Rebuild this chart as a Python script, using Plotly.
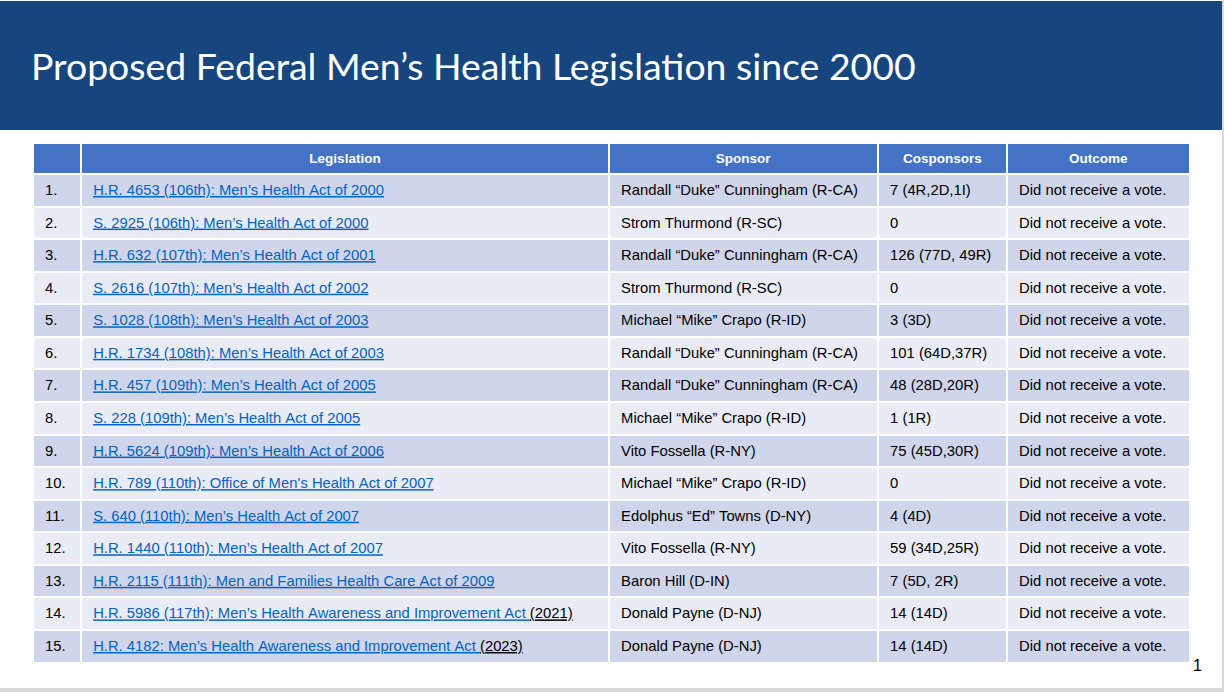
import plotly.graph_objects as go

title = "Proposed Federal Men\u2019s Health Legislation since 2000"
headers = ["", "Legislation", "Sponsor", "Cosponsors", "Outcome"]
numbers = [f"{i}." for i in range(1, 16)]
legislation = [
    "H.R. 4653 (106th): Men\u2019s Health Act of 2000",
    "S. 2925 (106th): Men\u2019s Health Act of 2000",
    "H.R. 632 (107th): Men\u2019s Health Act of 2001",
    "S. 2616 (107th): Men\u2019s Health Act of 2002",
    "S. 1028 (108th): Men\u2019s Health Act of 2003",
    "H.R. 1734 (108th): Men\u2019s Health Act of 2003",
    "H.R. 457 (109th): Men\u2019s Health Act of 2005",
    "S. 228 (109th): Men\u2019s Health Act of 2005",
    "H.R. 5624 (109th): Men\u2019s Health Act of 2006",
    "H.R. 789 (110th): Office of Men\u2019s Health Act of 2007",
    "S. 640 (110th): Men\u2019s Health Act of 2007",
    "H.R. 1440 (110th): Men\u2019s Health Act of 2007",
    "H.R. 2115 (111th): Men and Families Health Care Act of 2009",
    "H.R. 5986 (117th): Men\u2019s Health Awareness and Improvement Act ",
    "H.R. 4182: Men\u2019s Health Awareness and Improvement Act ",
]
year_suffix = ["", "", "", "", "", "", "", "", "", "", "", "", "", "(2021)", "(2023)"]
sponsors = [
    "Randall \u201cDuke\u201d Cunningham (R-CA)",
    "Strom Thurmond (R-SC)",
    "Randall \u201cDuke\u201d Cunningham (R-CA)",
    "Strom Thurmond (R-SC)",
    "Michael \u201cMike\u201d Crapo (R-ID)",
    "Randall \u201cDuke\u201d Cunningham (R-CA)",
    "Randall \u201cDuke\u201d Cunningham (R-CA)",
    "Michael \u201cMike\u201d Crapo (R-ID)",
    "Vito Fossella (R-NY)",
    "Michael \u201cMike\u201d Crapo (R-ID)",
    "Edolphus \u201cEd\u201d Towns (D-NY)",
    "Vito Fossella (R-NY)",
    "Baron Hill (D-IN)",
    "Donald Payne (D-NJ)",
    "Donald Payne (D-NJ)",
]
cosponsors = [
    "7 (4R,2D,1I)", "0", "126 (77D, 49R)", "0", "3 (3D)", "101 (64D,37R)",
    "48 (28D,20R)", "1 (1R)", "75 (45D,30R)", "0", "4 (4D)", "59 (34D,25R)",
    "7 (5D, 2R)", "14 (14D)", "14 (14D)",
]
outcomes = ["Did not receive a vote."] * 15
page_number = "1"

W, H = 1224, 692
FONT = "'Liberation Sans', Arial, sans-serif"
TITLE_FONT = "Lato, 'Open Sans', sans-serif"
NB = "\u00a0"
LINK = "#0563C1"
URL = "https://www.congress.gov/"


def nb(s):
    return s.replace(" ", NB)


def plain(s):
    # same markup path as the link cells so all columns share one baseline
    return f"<span>{NB}{nb(s)}</span>"


leg_cells = []
for name, yr in zip(legislation, year_suffix):
    t = NB + f'<a href="{URL}"style="color:{LINK}"><u>{nb(name)}</u></a>'
    if yr:
        t += f"<u>{nb(yr)}</u>"
    leg_cells.append(t)

odd, even = "#CFD5EA", "#E9EBF5"
fills = [odd if i % 2 == 0 else even for i in range(15)]

tbl_left, tbl_right = 33, 1190
tbl_top, tbl_bot = 143, 664
col_w = [48, 528, 269, 129, 183]

fig = go.Figure(go.Table(
    domain=dict(x=[tbl_left / W, tbl_right / W], y=[1 - tbl_bot / H, 1 - tbl_top / H]),
    columnwidth=col_w,
    header=dict(
        values=[f"<b>{h}</b>" for h in headers],
        fill_color="#4472C4",
        line=dict(color="white", width=2),
        align="center",
        font=dict(family=FONT, size=13.5, color="white"),
        height=31,
    ),
    cells=dict(
        values=[[plain(n) for n in numbers], leg_cells,
                [plain(s) for s in sponsors], [plain(c) for c in cosponsors],
                [plain(o) for o in outcomes]],
        fill_color=[fills] * 5,
        line=dict(color="white", width=2),
        align="left",
        font=dict(family=FONT, size=14.8, color="black"),
        height=32.57,
    ),
))

fig.add_shape(type="rect", xref="paper", yref="paper",
              x0=0, x1=1222 / W, y0=1 - 130 / H, y1=1 - 1 / H,
              fillcolor="#17467E", line_width=0, layer="below")
fig.add_shape(type="rect", xref="paper", yref="paper",
              x0=1222 / W, x1=1, y0=0, y1=1,
              fillcolor="#D9D9D9", line_width=0, layer="below")
fig.add_shape(type="rect", xref="paper", yref="paper",
              x0=0, x1=1, y0=0, y1=4 / H,
              fillcolor="#D9D9D9", line_width=0, layer="below")

fig.add_annotation(text=title, xref="paper", yref="paper",
                   x=29 / W, y=1 - 66 / H, xanchor="left", yanchor="middle",
                   showarrow=False, font=dict(family=TITLE_FONT, size=37.4, color="white"))
fig.add_annotation(text=page_number, xref="paper", yref="paper",
                   x=1197 / W, y=1 - 665 / H, xanchor="center", yanchor="middle",
                   showarrow=False, font=dict(family=FONT, size=16, color="black"))

fig.update_layout(width=W, height=H, margin=dict(l=0, r=0, t=0, b=0),
                  paper_bgcolor="white", plot_bgcolor="white")

fig.write_html("out.html", config={"displayModeBar": False},
               post_script="document.body.style.margin='0';")
